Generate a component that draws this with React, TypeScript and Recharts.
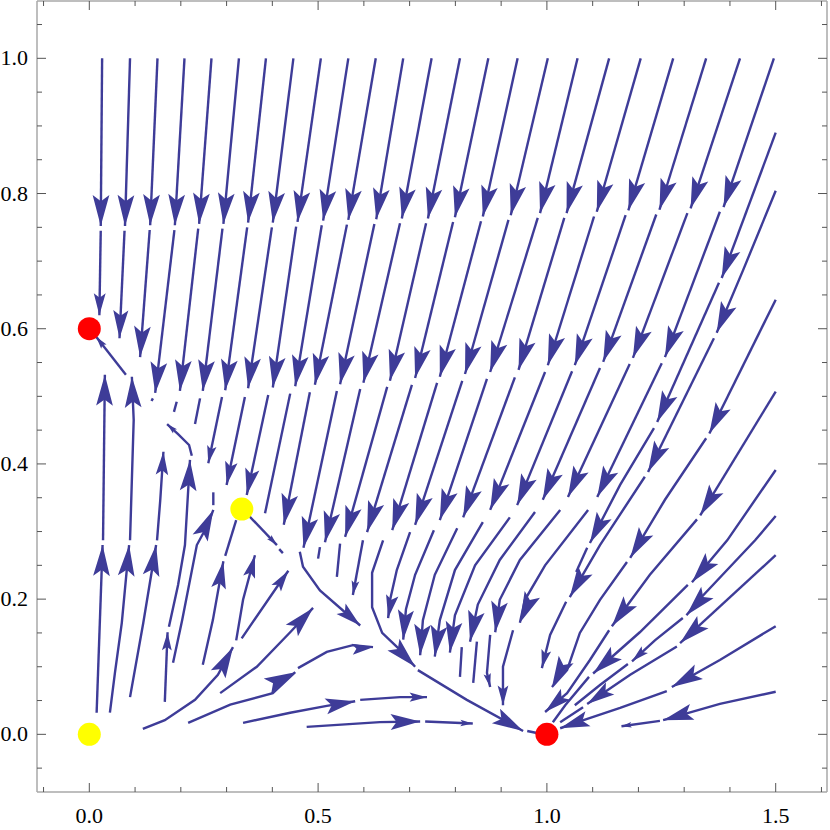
import React from 'react';
import { ComposedChart, Line, XAxis, YAxis, Scatter } from 'recharts';

type Seg = { a: number; p: number[][] };

// x / y ranges and tick values
const xDomain = [-0.1143, 1.6121];
const yDomain = [-0.0853, 1.0848];
const xTicks = [-0.1, 0, 0.1, 0.2, 0.3, 0.4, 0.5, 0.6, 0.7, 0.8, 0.9, 1.0, 1.1, 1.2, 1.3, 1.4, 1.5, 1.6];
const yTicks = [-0.05, 0, 0.05, 0.1, 0.15, 0.2, 0.25, 0.3, 0.35, 0.4, 0.45, 0.5, 0.55, 0.6, 0.65, 0.7, 0.75, 0.8, 0.85, 0.9, 0.95, 1.0, 1.05];
const xLabels = [0, 0.5, 1.0, 1.5];
const yLabels = [0, 0.2, 0.4, 0.6, 0.8, 1.0];

// fixed points
const stableNodes = [{ x: 0, y: 0.6 }, { x: 1, y: 0 }];
const unstablePoints = [{ x: 0, y: 0 }, { x: 0.3333, y: 0.3333 }];

// streamline pieces (a = 1: arrowhead at the last point)
const topRow: Seg[] = [
  { a: 1, p: [[0.028, 1.0], [0.025, 0.752]] },
  { a: 1, p: [[0.089, 1.0], [0.078, 0.752]] },
  { a: 1, p: [[0.149, 1.0], [0.133, 0.753]] },
  { a: 1, p: [[0.208, 1.0], [0.187, 0.753]] },
  { a: 1, p: [[0.267, 1.0], [0.240, 0.755]] },
  { a: 1, p: [[0.327, 1.0], [0.293, 0.755]] },
  { a: 1, p: [[0.386, 1.0], [0.347, 0.757]] },
  { a: 1, p: [[0.446, 1.0], [0.401, 0.757]] },
  { a: 1, p: [[0.506, 1.0], [0.455, 0.758]] },
  { a: 1, p: [[0.566, 1.0], [0.511, 0.760]] },
  { a: 1, p: [[0.626, 1.0], [0.566, 0.761]] },
  { a: 1, p: [[0.686, 1.0], [0.627, 0.762]] },
  { a: 1, p: [[0.748, 1.0], [0.683, 0.763]] },
  { a: 1, p: [[0.810, 1.0], [0.740, 0.763]] },
  { a: 1, p: [[0.872, 1.0], [0.799, 0.765]] },
  { a: 1, p: [[0.936, 1.0], [0.860, 0.766]] },
  { a: 1, p: [[1.002, 1.0], [0.921, 0.768]] },
  { a: 1, p: [[1.067, 1.0], [0.985, 0.771]] },
  { a: 1, p: [[1.136, 1.0], [1.043, 0.771]] },
  { a: 1, p: [[1.205, 1.0], [1.109, 0.773]] },
  { a: 1, p: [[1.276, 1.0], [1.178, 0.775]] },
  { a: 1, p: [[1.348, 1.0], [1.246, 0.776]] },
  { a: 1, p: [[1.422, 1.0], [1.314, 0.778]] },
  { a: 1, p: [[1.496, 1.0], [1.386, 0.780]] },
];

const secondRow: Seg[] = [
  { a: 1, p: [[0.025, 0.745], [0.022, 0.620]] },
  { a: 1, p: [[0.077, 0.745], [0.066, 0.586]] },
  { a: 1, p: [[0.132, 0.746], [0.111, 0.558]] },
  { a: 1, p: [[0.186, 0.746], [0.144, 0.505]] },
  { a: 1, p: [[0.238, 0.748], [0.198, 0.508]] },
  { a: 1, p: [[0.291, 0.748], [0.248, 0.508]] },
  { a: 1, p: [[0.345, 0.750], [0.297, 0.509]] },
  { a: 1, p: [[0.399, 0.750], [0.347, 0.512]] },
  { a: 1, p: [[0.452, 0.751], [0.401, 0.513]] },
  { a: 1, p: [[0.508, 0.753], [0.450, 0.515]] },
  { a: 1, p: [[0.563, 0.754], [0.493, 0.517]] },
  { a: 1, p: [[0.623, 0.755], [0.548, 0.518]] },
  { a: 1, p: [[0.679, 0.756], [0.599, 0.520]] },
  { a: 1, p: [[0.736, 0.756], [0.657, 0.523]] },
  { a: 1, p: [[0.795, 0.758], [0.712, 0.527]] },
  { a: 1, p: [[0.856, 0.759], [0.766, 0.529]] },
  { a: 1, p: [[0.916, 0.761], [0.821, 0.533]] },
  { a: 1, p: [[0.980, 0.764], [0.876, 0.536]] },
  { a: 1, p: [[1.038, 0.764], [0.938, 0.539]] },
  { a: 1, p: [[1.103, 0.766], [1.002, 0.546]] },
  { a: 1, p: [[1.172, 0.768], [1.061, 0.546]] },
  { a: 1, p: [[1.239, 0.769], [1.123, 0.551]] },
  { a: 1, p: [[1.307, 0.771], [1.188, 0.557]] },
  { a: 1, p: [[1.378, 0.773], [1.258, 0.558]] },
];

const thirdRow: Seg[] = [
  { a: 0, p: [[0.139, 0.497], [0.136, 0.493]] },
  { a: 0, p: [[0.191, 0.492], [0.185, 0.477]] },
  { a: 0, p: [[0.242, 0.497], [0.231, 0.459]] },
  { a: 1, p: [[0.290, 0.499], [0.260, 0.401]] },
  { a: 1, p: [[0.340, 0.499], [0.300, 0.369]] },
  { a: 1, p: [[0.391, 0.502], [0.344, 0.354]] },
  { a: 0, p: [[0.439, 0.504], [0.384, 0.327]] },
  { a: 1, p: [[0.482, 0.506], [0.425, 0.310]] },
  { a: 1, p: [[0.541, 0.508], [0.468, 0.276]] },
  { a: 1, p: [[0.592, 0.511], [0.515, 0.284]] },
  { a: 1, p: [[0.651, 0.514], [0.559, 0.292]] },
  { a: 1, p: [[0.705, 0.517], [0.607, 0.299]] },
  { a: 1, p: [[0.760, 0.520], [0.662, 0.302]] },
  { a: 1, p: [[0.815, 0.523], [0.712, 0.310]] },
  { a: 1, p: [[0.869, 0.526], [0.766, 0.317]] },
  { a: 1, p: [[0.930, 0.528], [0.817, 0.321]] },
  { a: 1, p: [[0.996, 0.536], [0.876, 0.332]] },
  { a: 1, p: [[1.055, 0.537], [0.935, 0.339]] },
  { a: 1, p: [[1.116, 0.542], [0.991, 0.347]] },
  { a: 1, p: [[1.181, 0.548], [1.046, 0.351]] },
  { a: 1, p: [[1.251, 0.549], [1.110, 0.351]] },
];

const funnel: Seg[] = [
  { a: 1, p: [[0.460, 0.270], [0.467, 0.248], [0.504, 0.213], [0.592, 0.161]] },
  { a: 0, p: [[0.504, 0.277], [0.500, 0.260]] },
  { a: 0, p: [[0.548, 0.282], [0.541, 0.233]] },
  { a: 1, p: [[0.598, 0.287], [0.576, 0.206]] },
  { a: 1, p: [[0.642, 0.287], [0.618, 0.239], [0.618, 0.188], [0.640, 0.150], [0.679, 0.125], [0.712, 0.100]] },
  { a: 1, p: [[0.718, 0.095], [0.825, 0.051], [0.948, 0.005]] },
  { a: 0, p: [[0.957, 0.005], [0.978, 0.002]] },
  { a: 1, p: [[0.701, 0.299], [0.672, 0.243], [0.657, 0.198], [0.653, 0.172]] },
  { a: 1, p: [[0.753, 0.302], [0.712, 0.236], [0.692, 0.185], [0.686, 0.140]] },
  { a: 1, p: [[0.804, 0.305], [0.755, 0.236], [0.729, 0.169], [0.723, 0.117]] },
  { a: 1, p: [[0.860, 0.314], [0.799, 0.243], [0.766, 0.169], [0.755, 0.115]] },
  { a: 1, p: [[0.919, 0.321], [0.843, 0.250], [0.799, 0.176], [0.788, 0.121]] },
  { a: 1, p: [[0.974, 0.329], [0.897, 0.258], [0.849, 0.192], [0.832, 0.137]] },
  { a: 1, p: [[1.029, 0.332], [0.941, 0.258], [0.897, 0.199], [0.887, 0.151]] },
  { a: 1, p: [[1.090, 0.332], [0.996, 0.250], [0.952, 0.199], [0.941, 0.165]] },
  { a: 0, p: [[0.814, 0.129], [0.810, 0.085]] },
  { a: 0, p: [[0.847, 0.137], [0.839, 0.076]] },
  { a: 1, p: [[0.876, 0.147], [0.869, 0.091], [0.876, 0.070]] },
  { a: 1, p: [[0.926, 0.154], [0.904, 0.100], [0.904, 0.043]] },
];

const fan: Seg[] = [
  { a: 1, p: [[0.016, 0.032], [0.029, 0.280]] },
  { a: 1, p: [[0.030, 0.287], [0.034, 0.532]] },
  { a: 1, p: [[0.045, 0.032], [0.056, 0.091], [0.071, 0.165], [0.087, 0.280]] },
  { a: 1, p: [[0.089, 0.287], [0.097, 0.465], [0.093, 0.529]] },
  { a: 1, p: [[0.089, 0.055], [0.118, 0.165], [0.146, 0.280]] },
  { a: 1, p: [[0.148, 0.287], [0.155, 0.346], [0.162, 0.418]] },
  { a: 1, p: [[0.165, 0.048], [0.171, 0.151]] },
  { a: 1, p: [[0.174, 0.159], [0.194, 0.221], [0.209, 0.280], [0.220, 0.406]] },
  { a: 1, p: [[0.224, 0.412], [0.218, 0.428], [0.194, 0.444], [0.170, 0.459]] },
  { a: 1, p: [[0.183, 0.106], [0.203, 0.169], [0.235, 0.280], [0.259, 0.310], [0.271, 0.332]] },
  { a: 0, p: [[0.271, 0.339], [0.271, 0.358]] },
  { a: 1, p: [[0.248, 0.103], [0.270, 0.169], [0.293, 0.256]] },
  { a: 0, p: [[0.297, 0.264], [0.321, 0.317]] },
  { a: 1, p: [[0.117, 0.008], [0.165, 0.021], [0.231, 0.051], [0.281, 0.088], [0.314, 0.129]] },
  { a: 1, p: [[0.321, 0.139], [0.336, 0.199], [0.362, 0.265]] },
  { a: 1, p: [[0.286, 0.061], [0.366, 0.100], [0.439, 0.151], [0.489, 0.187]] },
  { a: 1, p: [[0.333, 0.142], [0.410, 0.218], [0.435, 0.242]] },
  { a: 1, p: [[0.080, 0.532], [0.015, 0.588]] },
  { a: 1, p: [[0.345, 0.326], [0.410, 0.280]] },
  { a: 0, p: [[0.415, 0.274], [0.423, 0.268]] },
];

const bottomFlow: Seg[] = [
  { a: 1, p: [[0.216, 0.017], [0.308, 0.044], [0.401, 0.061], [0.450, 0.092]] },
  { a: 1, p: [[0.456, 0.098], [0.519, 0.122], [0.576, 0.132], [0.620, 0.129]] },
  { a: 1, p: [[0.336, 0.017], [0.439, 0.032], [0.519, 0.042], [0.581, 0.049]] },
  { a: 1, p: [[0.592, 0.051], [0.679, 0.055], [0.738, 0.055]] },
  { a: 1, p: [[0.475, 0.011], [0.635, 0.018], [0.723, 0.019]] },
  { a: 1, p: [[0.734, 0.019], [0.838, 0.016]] },
];

const rightSide: Seg[] = [
  { a: 1, p: [[1.500, 0.890], [1.382, 0.675]] },
  { a: 1, p: [[1.376, 0.668], [1.241, 0.462]] },
  { a: 1, p: [[1.234, 0.453], [1.160, 0.369], [1.094, 0.283]] },
  { a: 0, p: [[1.088, 0.276], [1.064, 0.240]] },
  { a: 1, p: [[1.500, 0.804], [1.429, 0.687], [1.371, 0.594]] },
  { a: 1, p: [[1.365, 0.586], [1.221, 0.388]] },
  { a: 1, p: [[1.214, 0.381], [1.116, 0.280], [1.050, 0.203]] },
  { a: 1, p: [[1.042, 0.196], [1.007, 0.147], [0.989, 0.098]] },
  { a: 1, p: [[1.500, 0.643], [1.355, 0.445]] },
  { a: 1, p: [[1.348, 0.438], [1.258, 0.347], [1.182, 0.261]] },
  { a: 1, p: [[1.175, 0.255], [1.116, 0.199], [1.072, 0.150], [1.044, 0.095], [1.011, 0.070]] },
  { a: 1, p: [[1.500, 0.507], [1.335, 0.324]] },
  { a: 1, p: [[1.328, 0.318], [1.225, 0.236], [1.142, 0.160]] },
  { a: 1, p: [[1.136, 0.154], [1.094, 0.110], [1.044, 0.061], [0.996, 0.033]] },
  { a: 1, p: [[1.500, 0.391], [1.394, 0.287], [1.317, 0.225]] },
  { a: 1, p: [[1.308, 0.221], [1.203, 0.151], [1.101, 0.090]] },
  { a: 0, p: [[1.092, 0.085], [1.040, 0.043], [1.013, 0.018]] },
  { a: 1, p: [[1.500, 0.323], [1.455, 0.287], [1.335, 0.201], [1.305, 0.176]] },
  { a: 1, p: [[1.297, 0.172], [1.236, 0.139], [1.186, 0.108]] },
  { a: 0, p: [[1.177, 0.104], [1.116, 0.073], [1.061, 0.043]] },
  { a: 1, p: [[1.500, 0.265], [1.291, 0.135]] },
  { a: 1, p: [[1.284, 0.130], [1.182, 0.088], [1.088, 0.045]] },
  { a: 0, p: [[1.079, 0.040], [1.029, 0.018]] },
  { a: 1, p: [[1.500, 0.160], [1.378, 0.110], [1.273, 0.070]] },
  { a: 1, p: [[1.262, 0.064], [1.160, 0.039], [1.080, 0.021], [1.029, 0.009]] },
  { a: 1, p: [[1.500, 0.063], [1.378, 0.045], [1.254, 0.021]] },
  { a: 1, p: [[1.247, 0.020], [1.163, 0.012]] },
];

const allSegs: Seg[] = [...topRow, ...secondRow, ...thirdRow, ...funnel, ...fan, ...bottomFlow, ...rightSide];

const STREAM = '#3e3c98';
const FRAME = '#a8a8a8';
const TICK = '#555555';
const FONT = 'Liberation Serif, Times New Roman, serif';

function makeArrowDot(hasArrow: boolean) {
  return (props: any) => {
    const { cx, cy, index, points } = props;
    const k = props.key ?? `d-${index}`;
    if (!hasArrow || !points || index !== points.length - 1 || cx == null) return <g key={k} />;
    let total = 0;
    for (let i = 1; i < points.length; i++) {
      total += Math.hypot(points[i].x - points[i - 1].x, points[i].y - points[i - 1].y);
    }
    const L = Math.max(7, Math.min(31, 0.26 * total));
    const last = points[points.length - 1];
    let j = points.length - 2;
    while (j > 0 && Math.hypot(last.x - points[j].x, last.y - points[j].y) < L) j--;
    const dx = last.x - points[j].x;
    const dy = last.y - points[j].y;
    const d = Math.hypot(dx, dy) || 1;
    const ux = dx / d, uy = dy / d;
    const nx = -uy, ny = ux;
    const W = 0.27 * L;
    const bx = cx - ux * L, by = cy - uy * L;
    const mx = cx - ux * L * 0.8, my = cy - uy * L * 0.8;
    return (
      <path
        key={k}
        d={`M${cx},${cy}L${bx + nx * W},${by + ny * W}L${mx},${my}L${bx - nx * W},${by - ny * W}Z`}
        fill={STREAM}
        stroke="none"
      />
    );
  };
}

const isMajorX = (v: number) => Math.abs(v * 2 - Math.round(v * 2)) < 1e-6;
const isMajorY = (v: number) => Math.abs(v * 5 - Math.round(v * 5)) < 1e-6;

const labelStyle = { fontFamily: FONT, fontSize: 22 };

const BottomTick = (p: any) => {
  const v = p.payload.value;
  const major = isMajorX(v);
  const lab = xLabels.some((l) => Math.abs(l - v) < 1e-6);
  return (
    <g>
      <line x1={p.x} x2={p.x} y1={p.y} y2={p.y - (major ? 9 : 5)} stroke={TICK} strokeWidth={1} />
      {lab && (
        <text x={p.x} y={p.y + 31} textAnchor="middle" style={labelStyle} fill="#000">
          {v.toFixed(1)}
        </text>
      )}
    </g>
  );
};
const TopTick = (p: any) => {
  const v = p.payload.value;
  const major = isMajorX(v);
  return <line x1={p.x} x2={p.x} y1={p.y} y2={p.y + (major ? 9 : 5)} stroke={TICK} strokeWidth={1} />;
};
const LeftTick = (p: any) => {
  const v = p.payload.value;
  const major = isMajorY(v);
  const lab = yLabels.some((l) => Math.abs(l - v) < 1e-6);
  return (
    <g>
      <line x1={p.x} x2={p.x + (major ? 9 : 5)} y1={p.y} y2={p.y} stroke={TICK} strokeWidth={1} />
      {lab && (
        <text x={p.x - 9} y={p.y + 7} textAnchor="end" style={labelStyle} fill="#000">
          {v.toFixed(1)}
        </text>
      )}
    </g>
  );
};
const RightTick = (p: any) => {
  const v = p.payload.value;
  const major = isMajorY(v);
  return <line x1={p.x} x2={p.x - (major ? 9 : 5)} y1={p.y} y2={p.y} stroke={TICK} strokeWidth={1} />;
};

const nodeShape = (color: string) => (p: any) => <circle cx={p.cx} cy={p.cy} r={11.5} fill={color} stroke="none" />;

export default function App() {
  return (
    <div style={{ position: 'absolute', left: 0, top: 0, width: 830, height: 830, background: '#fff' }}>
      <ComposedChart width={830} height={830} margin={{ top: 0, right: 2, bottom: 0, left: 0 }}>
        <XAxis
          xAxisId={0}
          dataKey="x"
          type="number"
          domain={xDomain}
          allowDataOverflow
          ticks={xTicks}
          interval={0}
          tickLine={false}
          tickSize={0}
          tickMargin={0}
          height={38}
          axisLine={{ stroke: FRAME, strokeWidth: 1.5 }}
          tick={<BottomTick />}
        />
        <XAxis
          xAxisId="top"
          orientation="top"
          dataKey="x"
          type="number"
          domain={xDomain}
          allowDataOverflow
          ticks={xTicks}
          interval={0}
          tickLine={false}
          tickSize={0}
          tickMargin={0}
          height={1}
          axisLine={{ stroke: FRAME, strokeWidth: 1.5 }}
          tick={<TopTick />}
        />
        <YAxis
          yAxisId={0}
          type="number"
          domain={yDomain}
          allowDataOverflow
          ticks={yTicks}
          interval={0}
          tickLine={false}
          tickSize={0}
          tickMargin={0}
          width={37}
          axisLine={{ stroke: FRAME, strokeWidth: 1.5 }}
          tick={<LeftTick />}
        />
        <YAxis
          yAxisId="right"
          orientation="right"
          type="number"
          domain={yDomain}
          allowDataOverflow
          ticks={yTicks}
          interval={0}
          tickLine={false}
          tickSize={0}
          tickMargin={0}
          width={1}
          axisLine={{ stroke: FRAME, strokeWidth: 1.5 }}
          tick={<RightTick />}
        />
        {allSegs.map((s, i) => (
          <Line
            key={`s${i}`}
            data={s.p.map(([x, y]) => ({ x, y }))}
            dataKey="y"
            type="linear"
            stroke={STREAM}
            strokeWidth={2.4}
            dot={makeArrowDot(s.a === 1)}
            activeDot={false}
            isAnimationActive={false}
            legendType="none"
          />
        ))}
        <Scatter data={stableNodes} dataKey="y" fill="#ff0000" shape={nodeShape('#ff0000')} isAnimationActive={false} />
        <Scatter data={unstablePoints} dataKey="y" fill="#ffff00" shape={nodeShape('#ffff00')} isAnimationActive={false} />
      </ComposedChart>
    </div>
  );
}
